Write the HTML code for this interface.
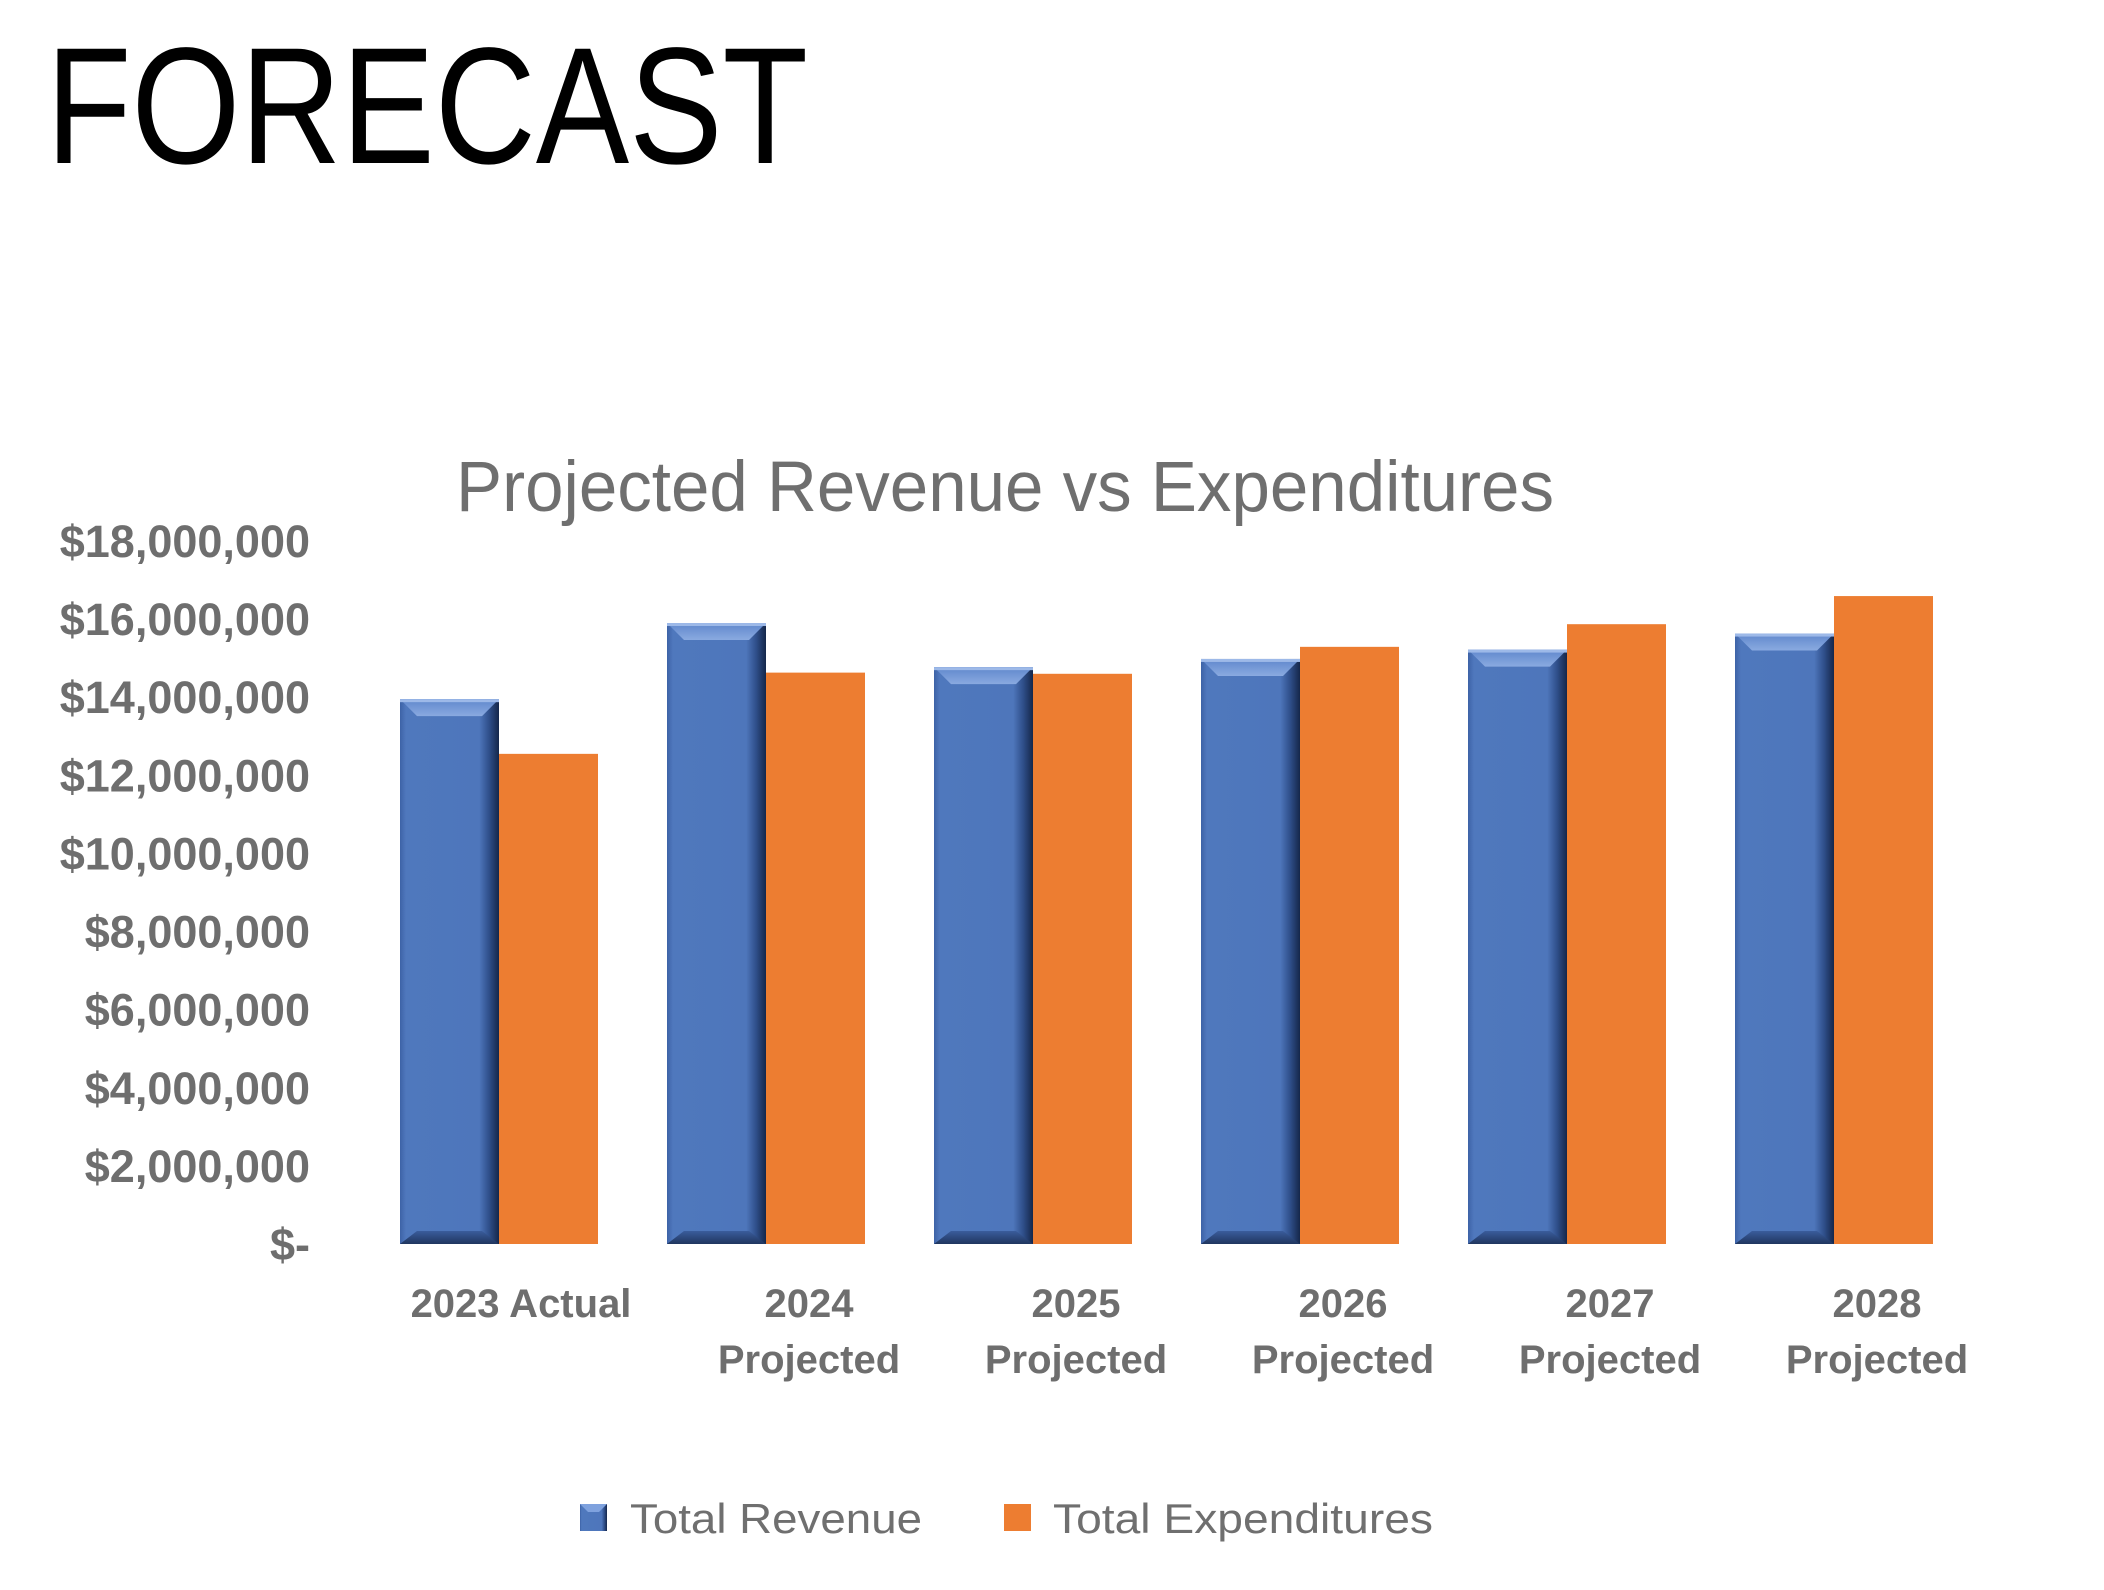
<!DOCTYPE html>
<html><head><meta charset="utf-8"><style>
html,body{margin:0;padding:0;background:#fff;}
svg{display:block;}
</style></head><body>
<svg id="chart" width="2104" height="1590" viewBox="0 0 2104 1590" xmlns="http://www.w3.org/2000/svg">
<defs>
<linearGradient id="blueBody" x1="0" y1="0" x2="1" y2="0">
<stop offset="0" stop-color="#3d62a6"/><stop offset="0.06" stop-color="#4f78bd"/><stop offset="0.8" stop-color="#4e76bb"/><stop offset="0.9" stop-color="#2f4f8a"/><stop offset="1" stop-color="#15274a"/>
</linearGradient>
<linearGradient id="blueTop" x1="0" y1="0" x2="0" y2="1">
<stop offset="0" stop-color="#5f87cc"/><stop offset="1" stop-color="#8aaae0"/>
</linearGradient>
<linearGradient id="blueBot" x1="0" y1="0" x2="0" y2="1">
<stop offset="0" stop-color="#3a5c9c"/><stop offset="1" stop-color="#20365f"/>
</linearGradient>
</defs>
<text x="46" y="163" font-family="Liberation Sans, sans-serif" font-size="166" fill="#000" textLength="762" lengthAdjust="spacingAndGlyphs">FORECAST</text>
<text x="456" y="511" font-family="Liberation Sans, sans-serif" font-size="71" fill="#6f6f6f" textLength="1098" lengthAdjust="spacingAndGlyphs">Projected Revenue vs Expenditures</text>
<g id="yaxis"></g>
<g id="bars"></g>
<g id="xaxis"></g>
<g>
<g>
<rect x="580" y="1504" width="27" height="27" fill="url(#blueBody)"/>
<polygon points="580,1504 607,1504 599,1512 588,1512" fill="#7fa2de"/>
<text x="630" y="1533" font-family="Liberation Sans, sans-serif" font-size="42" fill="#6f6f6f" textLength="292" lengthAdjust="spacingAndGlyphs">Total Revenue</text>
</g>
<g>
<rect x="1004" y="1504" width="27" height="27" fill="#ed7d31"/>
<text x="1053" y="1533" font-family="Liberation Sans, sans-serif" font-size="42" fill="#6f6f6f" textLength="380" lengthAdjust="spacingAndGlyphs">Total Expenditures</text>
</g>
</g>
</svg>
<script>
const categories = [["2023 Actual"],["2024","Projected"],["2025","Projected"],["2026","Projected"],["2027","Projected"],["2028","Projected"]];
const revenue = [13950000, 15900000, 14770000, 14980000, 15220000, 15630000];
const expenditures = [12550000, 14630000, 14600000, 15290000, 15870000, 16590000];
const yTicks = [0, 2000000, 4000000, 6000000, 8000000, 10000000, 12000000, 14000000, 16000000, 18000000];
const yTickLabels = ["$-", "$2,000,000", "$4,000,000", "$6,000,000", "$8,000,000", "$10,000,000", "$12,000,000", "$14,000,000", "$16,000,000", "$18,000,000"];

const NS = "http://www.w3.org/2000/svg";
const Y0 = 1244, Y1 = 541, YMAX = 18000000;
const X0 = 365, BAND = 267, BARW = 99, OFF = 35;
function yScale(v){ return Y0 - (v / YMAX) * (Y0 - Y1); }
function xBand(i){ return X0 + i * BAND; }
function mk(tag, attrs, parent){ const e = document.createElementNS(NS, tag); for (const k in attrs) e.setAttribute(k, attrs[k]); parent.appendChild(e); return e; }

const yg = document.getElementById('yaxis');
yTicks.forEach((t, i) => {
  const tx = mk('text', {x: 310, y: yScale(t) + 16, 'text-anchor': 'end', 'font-family': 'Liberation Sans, sans-serif', 'font-size': 45, 'font-weight': 'bold', fill: '#6e6e6e'}, yg);
  
  
  tx.textContent = yTickLabels[i];
});

const bg = document.getElementById('bars');
revenue.forEach((v, i) => {
  const x = xBand(i) + OFF, y = yScale(v), h = Y0 - y;
  const g = mk('g', {}, bg);
  
  
  mk('rect', {x: x, y: y, width: BARW, height: h, fill: 'url(#blueBody)'}, g);
  const b = 17;
  mk('polygon', {points: `${x},${y} ${x+BARW},${y} ${x+BARW-b},${y+b} ${x+b},${y+b}`, fill: 'url(#blueTop)'}, g);
  mk('polygon', {points: `${x},${Y0} ${x+BARW},${Y0} ${x+BARW-b},${Y0-b+4} ${x+b},${Y0-b+4}`, fill: 'url(#blueBot)'}, g);
  mk('rect', {x: x, y: y, width: BARW, height: 3, fill: '#9db9e8'}, g);
});
expenditures.forEach((v, i) => {
  const x = xBand(i) + OFF + BARW, y = yScale(v);
  const r = mk('rect', {x: x, y: y, width: BARW, height: Y0 - y, fill: '#ed7d31'}, bg);
  
  
});

const xg = document.getElementById('xaxis');
categories.forEach((lines, i) => {
  const cx = xBand(i) + OFF + BARW + (lines.length > 1 ? 43 : 22);
  lines.forEach((ln, j) => {
    const tx = mk('text', {x: cx, y: 1317 + j * 56, 'text-anchor': 'middle', 'font-family': 'Liberation Sans, sans-serif', 'font-size': 40, 'font-weight': 'bold', fill: '#6e6e6e'}, xg);
    
    
    tx.textContent = ln;
  });
});
</script>
</body></html>
